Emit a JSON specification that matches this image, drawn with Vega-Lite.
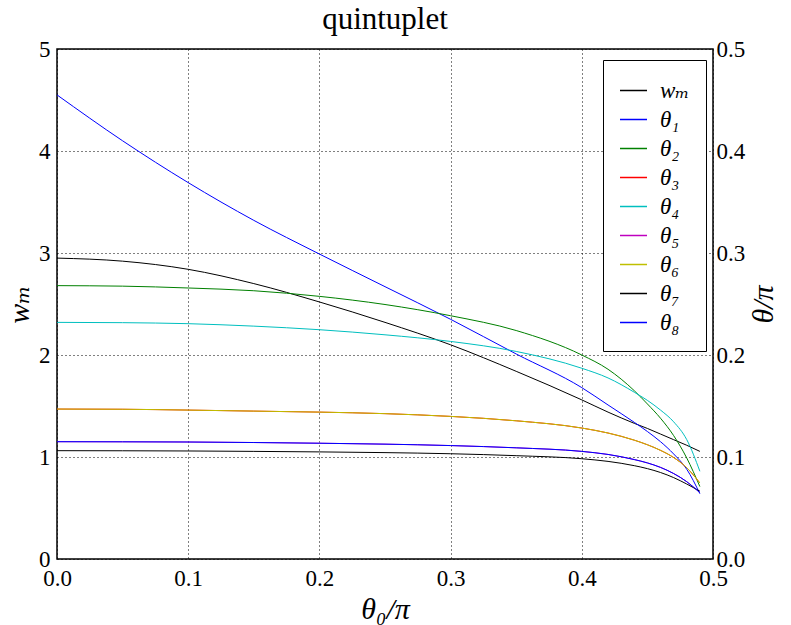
{
  "$schema": "https://vega.github.io/schema/vega-lite/v6.json",
  "width": 656,
  "height": 510,
  "autosize": {"type": "none"},
  "padding": {"left": 57, "top": 49, "right": 78, "bottom": 66},
  "background": "white",
  "title": {"text": "quintuplet", "font": "Liberation Serif, DejaVu Serif, serif", "fontSize": 31, "fontWeight": "normal", "color": "black", "anchor": "middle", "baseline": "alphabetic", "offset": -22},
  "datasets": {
    "wm": [
      {"x": 0, "s": "wₘ", "v": 2.95}, {"x": 0.05, "s": "wₘ", "v": 2.92}, {"x": 0.1, "s": "wₘ", "v": 2.84}, {"x": 0.15, "s": "wₘ", "v": 2.70},
      {"x": 0.2, "s": "wₘ", "v": 2.52}, {"x": 0.25, "s": "wₘ", "v": 2.32}, {"x": 0.3, "s": "wₘ", "v": 2.10}, {"x": 0.35, "s": "wₘ", "v": 1.84},
      {"x": 0.4, "s": "wₘ", "v": 1.56}, {"x": 0.42, "s": "wₘ", "v": 1.44}, {"x": 0.44, "s": "wₘ", "v": 1.33}, {"x": 0.45, "s": "wₘ", "v": 1.28},
      {"x": 0.46, "s": "wₘ", "v": 1.225}, {"x": 0.47, "s": "wₘ", "v": 1.17}, {"x": 0.48, "s": "wₘ", "v": 1.115}, {"x": 0.49, "s": "wₘ", "v": 1.055}
    ],
    "theta": [
      {"x": 0, "s": "θ₁", "v": 0.455}, {"x": 0.05, "s": "θ₁", "v": 0.410}, {"x": 0.1, "s": "θ₁", "v": 0.369}, {"x": 0.15, "s": "θ₁", "v": 0.332},
      {"x": 0.2, "s": "θ₁", "v": 0.299}, {"x": 0.25, "s": "θ₁", "v": 0.267}, {"x": 0.3, "s": "θ₁", "v": 0.235}, {"x": 0.35, "s": "θ₁", "v": 0.201},
      {"x": 0.4, "s": "θ₁", "v": 0.168}, {"x": 0.42, "s": "θ₁", "v": 0.151}, {"x": 0.44, "s": "θ₁", "v": 0.134}, {"x": 0.45, "s": "θ₁", "v": 0.125},
      {"x": 0.46, "s": "θ₁", "v": 0.115}, {"x": 0.47, "s": "θ₁", "v": 0.103}, {"x": 0.48, "s": "θ₁", "v": 0.088}, {"x": 0.49, "s": "θ₁", "v": 0.064},

      {"x": 0, "s": "θ₂", "v": 0.268}, {"x": 0.05, "s": "θ₂", "v": 0.2675}, {"x": 0.1, "s": "θ₂", "v": 0.2657}, {"x": 0.15, "s": "θ₂", "v": 0.263},
      {"x": 0.2, "s": "θ₂", "v": 0.2575}, {"x": 0.25, "s": "θ₂", "v": 0.2495}, {"x": 0.3, "s": "θ₂", "v": 0.2385}, {"x": 0.35, "s": "θ₂", "v": 0.224},
      {"x": 0.4, "s": "θ₂", "v": 0.200}, {"x": 0.42, "s": "θ₂", "v": 0.186}, {"x": 0.44, "s": "θ₂", "v": 0.165}, {"x": 0.45, "s": "θ₂", "v": 0.152},
      {"x": 0.46, "s": "θ₂", "v": 0.138}, {"x": 0.47, "s": "θ₂", "v": 0.121}, {"x": 0.48, "s": "θ₂", "v": 0.099}, {"x": 0.49, "s": "θ₂", "v": 0.071},

      {"x": 0, "s": "θ₃", "v": 0.147}, {"x": 0.05, "s": "θ₃", "v": 0.1468}, {"x": 0.1, "s": "θ₃", "v": 0.146}, {"x": 0.15, "s": "θ₃", "v": 0.145},
      {"x": 0.2, "s": "θ₃", "v": 0.144}, {"x": 0.25, "s": "θ₃", "v": 0.1425}, {"x": 0.3, "s": "θ₃", "v": 0.1398}, {"x": 0.35, "s": "θ₃", "v": 0.1355},
      {"x": 0.4, "s": "θ₃", "v": 0.1284}, {"x": 0.42, "s": "θ₃", "v": 0.1235}, {"x": 0.44, "s": "θ₃", "v": 0.1165}, {"x": 0.45, "s": "θ₃", "v": 0.112},
      {"x": 0.46, "s": "θ₃", "v": 0.1065}, {"x": 0.47, "s": "θ₃", "v": 0.0995}, {"x": 0.48, "s": "θ₃", "v": 0.0895}, {"x": 0.49, "s": "θ₃", "v": 0.0745},

      {"x": 0, "s": "θ₄", "v": 0.232}, {"x": 0.05, "s": "θ₄", "v": 0.2317}, {"x": 0.1, "s": "θ₄", "v": 0.2307}, {"x": 0.15, "s": "θ₄", "v": 0.2283},
      {"x": 0.2, "s": "θ₄", "v": 0.2248}, {"x": 0.25, "s": "θ₄", "v": 0.2198}, {"x": 0.3, "s": "θ₄", "v": 0.2133}, {"x": 0.35, "s": "θ₄", "v": 0.2035},
      {"x": 0.4, "s": "θ₄", "v": 0.187}, {"x": 0.42, "s": "θ₄", "v": 0.1775}, {"x": 0.44, "s": "θ₄", "v": 0.1635}, {"x": 0.45, "s": "θ₄", "v": 0.1555},
      {"x": 0.46, "s": "θ₄", "v": 0.146}, {"x": 0.47, "s": "θ₄", "v": 0.1345}, {"x": 0.48, "s": "θ₄", "v": 0.117}, {"x": 0.49, "s": "θ₄", "v": 0.086},

      {"x": 0, "s": "θ₅", "v": 0.115}, {"x": 0.05, "s": "θ₅", "v": 0.1149}, {"x": 0.1, "s": "θ₅", "v": 0.1147}, {"x": 0.15, "s": "θ₅", "v": 0.1142},
      {"x": 0.2, "s": "θ₅", "v": 0.1135}, {"x": 0.25, "s": "θ₅", "v": 0.1126}, {"x": 0.3, "s": "θ₅", "v": 0.1112}, {"x": 0.35, "s": "θ₅", "v": 0.109},
      {"x": 0.4, "s": "θ₅", "v": 0.1055}, {"x": 0.42, "s": "θ₅", "v": 0.1025}, {"x": 0.44, "s": "θ₅", "v": 0.0975}, {"x": 0.45, "s": "θ₅", "v": 0.0942},
      {"x": 0.46, "s": "θ₅", "v": 0.0898}, {"x": 0.47, "s": "θ₅", "v": 0.0838}, {"x": 0.48, "s": "θ₅", "v": 0.0758}, {"x": 0.49, "s": "θ₅", "v": 0.065},

      {"x": 0, "s": "θ₆", "v": 0.147}, {"x": 0.05, "s": "θ₆", "v": 0.1468}, {"x": 0.1, "s": "θ₆", "v": 0.146}, {"x": 0.15, "s": "θ₆", "v": 0.145},
      {"x": 0.2, "s": "θ₆", "v": 0.144}, {"x": 0.25, "s": "θ₆", "v": 0.1425}, {"x": 0.3, "s": "θ₆", "v": 0.1398}, {"x": 0.35, "s": "θ₆", "v": 0.1355},
      {"x": 0.4, "s": "θ₆", "v": 0.1284}, {"x": 0.42, "s": "θ₆", "v": 0.1235}, {"x": 0.44, "s": "θ₆", "v": 0.1165}, {"x": 0.45, "s": "θ₆", "v": 0.112},
      {"x": 0.46, "s": "θ₆", "v": 0.1065}, {"x": 0.47, "s": "θ₆", "v": 0.0995}, {"x": 0.48, "s": "θ₆", "v": 0.0895}, {"x": 0.49, "s": "θ₆", "v": 0.0745},

      {"x": 0, "s": "θ₇", "v": 0.1062}, {"x": 0.05, "s": "θ₇", "v": 0.1061}, {"x": 0.1, "s": "θ₇", "v": 0.1059}, {"x": 0.15, "s": "θ₇", "v": 0.1055},
      {"x": 0.2, "s": "θ₇", "v": 0.105}, {"x": 0.25, "s": "θ₇", "v": 0.1043}, {"x": 0.3, "s": "θ₇", "v": 0.1032}, {"x": 0.35, "s": "θ₇", "v": 0.1013},
      {"x": 0.4, "s": "θ₇", "v": 0.0983}, {"x": 0.42, "s": "θ₇", "v": 0.0957}, {"x": 0.44, "s": "θ₇", "v": 0.0915}, {"x": 0.45, "s": "θ₇", "v": 0.0886},
      {"x": 0.46, "s": "θ₇", "v": 0.0848}, {"x": 0.47, "s": "θ₇", "v": 0.0798}, {"x": 0.48, "s": "θ₇", "v": 0.0735}, {"x": 0.49, "s": "θ₇", "v": 0.0665},

      {"x": 0, "s": "θ₈", "v": 0.115}, {"x": 0.05, "s": "θ₈", "v": 0.1149}, {"x": 0.1, "s": "θ₈", "v": 0.1147}, {"x": 0.15, "s": "θ₈", "v": 0.1142},
      {"x": 0.2, "s": "θ₈", "v": 0.1135}, {"x": 0.25, "s": "θ₈", "v": 0.1126}, {"x": 0.3, "s": "θ₈", "v": 0.1112}, {"x": 0.35, "s": "θ₈", "v": 0.109},
      {"x": 0.4, "s": "θ₈", "v": 0.1055}, {"x": 0.42, "s": "θ₈", "v": 0.1025}, {"x": 0.44, "s": "θ₈", "v": 0.0975}, {"x": 0.45, "s": "θ₈", "v": 0.0942},
      {"x": 0.46, "s": "θ₈", "v": 0.0898}, {"x": 0.47, "s": "θ₈", "v": 0.0838}, {"x": 0.48, "s": "θ₈", "v": 0.0758}, {"x": 0.49, "s": "θ₈", "v": 0.065}
    ]
  },
  "layer": [
    {
      "data": {"name": "wm"},
      "mark": {"type": "line", "strokeWidth": 1, "interpolate": "monotone"},
      "encoding": {
        "x": {"field": "x", "type": "quantitative", "scale": {"domain": [0, 0.5], "nice": false, "zero": false},
              "axis": {"values": [0, 0.1, 0.2, 0.3, 0.4, 0.5], "format": ".1f", "title": "θ₀/π", "grid": true, "labelPadding": 8, "titlePadding": 4}},
        "y": {"field": "v", "type": "quantitative", "scale": {"domain": [0, 5], "nice": false, "zero": false},
              "axis": {"orient": "left", "values": [0, 1, 2, 3, 4, 5], "format": "d", "title": "wₘ", "grid": true, "labelPadding": 7, "titlePadding": 4}},
        "color": {"field": "s", "type": "nominal",
                  "scale": {"domain": ["wₘ", "θ₁", "θ₂", "θ₃", "θ₄", "θ₅", "θ₆", "θ₇", "θ₈"],
                            "range": ["#000000", "#0000ff", "#008000", "#ff0000", "#00bfbf", "#bf00bf", "#bfbf00", "#000000", "#0000ff"]},
                  "legend": {"title": null, "orient": "none", "legendX": 546, "legendY": 11}}
      }
    },
    {
      "data": {"name": "theta"},
      "mark": {"type": "line", "strokeWidth": 1, "interpolate": "monotone"},
      "encoding": {
        "x": {"field": "x", "type": "quantitative", "scale": {"domain": [0, 0.5], "nice": false, "zero": false}},
        "y": {"field": "v", "type": "quantitative", "scale": {"domain": [0, 0.5], "nice": false, "zero": false},
              "axis": {"orient": "right", "values": [0, 0.1, 0.2, 0.3, 0.4, 0.5], "format": ".1f", "title": "θ/π", "titleAngle": 270, "grid": false, "labelPadding": 3, "titlePadding": 34}},
        "color": {"field": "s", "type": "nominal",
                  "scale": {"domain": ["wₘ", "θ₁", "θ₂", "θ₃", "θ₄", "θ₅", "θ₆", "θ₇", "θ₈"],
                            "range": ["#000000", "#0000ff", "#008000", "#ff0000", "#00bfbf", "#bf00bf", "#bfbf00", "#000000", "#0000ff"]},
                  "legend": {"title": null, "orient": "none", "legendX": 546, "legendY": 11}}
      }
    }
  ],
  "resolve": {"scale": {"y": "independent"}, "axis": {"y": "independent"}},
  "config": {
    "font": "Liberation Serif, DejaVu Serif, serif",
    "view": {"stroke": "black", "strokeWidth": 1.5},
    "axis": {
      "domain": false, "ticks": false,
      "labelFont": "Liberation Serif, DejaVu Serif, serif", "labelFontSize": 23, "labelColor": "black",
      "labelFlush": false, "labelOverlap": false,
      "titleFont": "Liberation Serif, DejaVu Serif, serif", "titleFontSize": 30, "titleFontWeight": "normal", "titleFontStyle": "italic", "titleColor": "black",
      "gridColor": "black", "gridDash": [1, 3], "gridWidth": 1, "gridOpacity": 1
    },
    "legend": {
      "symbolType": "stroke", "symbolSize": 729, "symbolStrokeWidth": 1.5, "symbolOpacity": 1,
      "labelFont": "Liberation Serif, DejaVu Serif, serif", "labelFontSize": 23, "labelFontStyle": "italic", "labelColor": "black", "labelOffset": 12,
      "rowPadding": 2, "padding": 16, "strokeColor": "black", "strokeWidth": 1, "fillColor": "white", "cornerRadius": 0
    }
  }
}
